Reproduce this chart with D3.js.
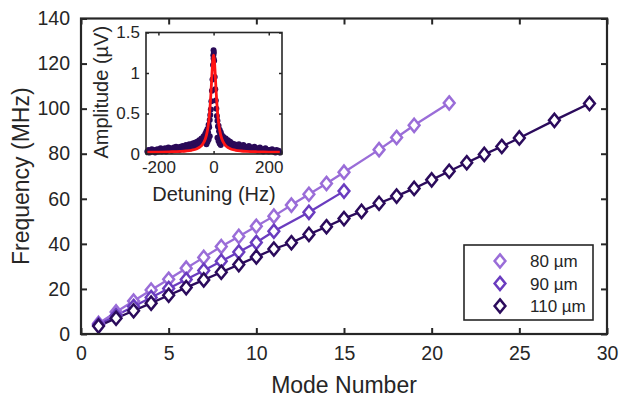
<!DOCTYPE html>
<html>
<head>
<meta charset="utf-8">
<script src="https://cdn.jsdelivr.net/npm/d3@7"></script>
<style>
  body { margin: 0; background: #fff; }
  text { font-family: "Liberation Sans", Arial, sans-serif; fill: #262626; }
</style>
</head>
<body>
<svg width="619" height="401"></svg>
<script>
var WIDTH = 619;
var HEIGHT = 401;

// main data: mode number vs frequency (MHz)
var modes80 = [1,2,3,4,5,6,7,8,9,10,11,12,13,14,15,17,18,19,21];
var freq80 = [4.7,9.8,14.6,19.5,24.3,29.2,34.0,38.8,43.3,47.8,52.3,57.2,62.0,66.8,71.8,81.8,87.2,92.6,102.5];
var modes90 = [1,2,3,4,5,6,7,8,9,10,11,13,15];
var freq90 = [4.1,8.2,12.2,16.2,20.2,24.2,28.2,32.3,36.4,40.6,45.6,54.0,63.4];
var modes110 = [1,2,3,4,5,6,7,8,9,10,11,12,13,14,15,16,17,18,19,20,21,22,23,24,25,27,29];
var freq110 = [3.5,7.0,10.3,13.7,17.2,20.6,24.0,27.4,30.8,34.2,37.7,40.5,44.2,47.6,51.2,54.4,58.0,61.2,64.6,68.4,72.2,76.0,79.7,83.2,87.0,94.8,102.3];
var seriesNames = ["80 \u00b5m", "90 \u00b5m", "110 \u00b5m"];
var seriesColors = ["#9a6dd8", "#6a3cbf", "#2b0b5c"];
var xTicks = [0,5,10,15,20,25,30];
var yTicks = [0,20,40,60,80,100,120,140];

// inset data: detuning (Hz) vs amplitude (uV)
var insetDetuning = [-240,-236,-232,-228,-224,-220,-216,-212,-208,-204,-200,-196,-192,-188,-184,-180,-176,-172,-168,-164,-160,-156,-152,-148,-144,-140,-136,-132,-128,-124,-120,-116,-112,-108,-104,-100,-96,-92,-88,-84,-80,-76,-72,-68,-64,-60,-56,-52,-48,-44,-40,-36,-32,
  -30,-28,-26,-24,-22,-20,-18,-16,-14,-12,-10,-8,-6,-4,-2,0,2,4,6,8,10,12,14,16,18,20,22,24,26,28,30,
  -26,-22,-18,-14,-1,1,0,14,18,22,26,
  32,36,40,44,48,52,56,60,64,68,72,76,80,84,88,92,96,100,104,108,112,116,120,124,128,132,136,140,144,148,152,156,160,164,168,172,176,180,184,188,192,196,200,204,208,212,216,220,224,228,232,236,240];
var insetAmplitude = [.03,.05,.02,.04,.06,.03,.05,.02,.04,.06,.03,.05,.07,.03,.05,.04,.07,.03,.06,.08,.05,.07,.04,.06,.08,.05,.09,.06,.08,.05,.09,.07,.10,.06,.09,.11,.07,.10,.12,.08,.11,.13,.09,.14,.11,.15,.12,.17,.14,.19,.16,.22,.19,
  .25,.21,.28,.24,.31,.27,.36,.33,.42,.48,.55,.65,.78,.92,1.10,1.28,1.15,.95,.80,.66,.56,.47,.41,.34,.35,.28,.30,.24,.27,.21,.23,
  .12,.15,.18,.22,1.22,1.25,1.18,.20,.16,.13,.11,
  .18,.21,.16,.19,.14,.17,.12,.15,.11,.13,.09,.12,.08,.11,.09,.12,.07,.10,.08,.11,.07,.09,.06,.08,.10,.06,.08,.05,.07,.09,.05,.07,.04,.06,.08,.04,.06,.03,.05,.07,.04,.05,.03,.05,.04,.06,.03,.04,.02,.05,.03,.04,.02];
var fitDetuning = [-240,-200,-160,-120,-100,-80,-60,-50,-40,-30,-25,-20,-15,-10,-8,-6,-4,-2,0,2,4,6,8,10,15,20,25,30,40,50,60,80,100,120,160,200,240];
var fitAmplitude = [.023,.024,.027,.032,.037,.046,.066,.085,.119,.186,.245,.338,.488,.728,.851,.98,1.10,1.187,1.22,1.187,1.10,.98,.851,.728,.488,.338,.245,.186,.119,.085,.066,.046,.037,.032,.027,.024,.023];
var insetXTicks = [-200,0,200];
var insetXLabels = ["-200","0","200"];
var insetYTicks = [0,0.5,1,1.5];
var insetYLabels = ["0","0.5","1","1.5"];

var svg = d3.select("svg")
    .attr("width", WIDTH)
    .attr("height", HEIGHT);

var plotLeft = 81, plotRight = 607, plotTop = 18.5, plotBottom = 334;

var x = d3.scaleLinear().domain([0, 30]).range([plotLeft, plotRight]);
var y = d3.scaleLinear().domain([0, 140]).range([plotBottom, plotTop]);

function noDomain(g) { g.select(".domain").remove(); }

// ticks (inward, all four sides)
var axes = svg.append("g");
axes.append("g")
    .attr("transform", "translate(0," + plotBottom + ")")
    .call(d3.axisBottom(x).tickValues(xTicks).tickSizeInner(-6).tickSizeOuter(0).tickPadding(12))
    .call(noDomain);
axes.append("g")
    .attr("transform", "translate(0," + plotTop + ")")
    .call(d3.axisTop(x).tickValues(xTicks).tickSizeInner(-6).tickSizeOuter(0).tickFormat(""))
    .call(noDomain);
axes.append("g")
    .attr("transform", "translate(" + plotLeft + ",0)")
    .call(d3.axisLeft(y).tickValues(yTicks).tickSizeInner(-6).tickSizeOuter(0).tickPadding(11))
    .call(noDomain);
axes.append("g")
    .attr("transform", "translate(" + plotRight + ",0)")
    .call(d3.axisRight(y).tickValues(yTicks).tickSizeInner(-6).tickSizeOuter(0).tickFormat(""))
    .call(noDomain);

axes.selectAll(".tick line").attr("stroke", "#262626").attr("stroke-width", 2);
axes.selectAll(".tick text").attr("font-size", 19.5).attr("fill", "#262626")
    .attr("font-family", "'Liberation Sans', Arial, sans-serif");

// series
var series = [
    {x: modes80, y: freq80},
    {x: modes90, y: freq90},
    {x: modes110, y: freq110}
];

var line = d3.line()
    .x(function(d) { return x(d[0]); })
    .y(function(d) { return y(d[1]); });

var diamond = "M0,-6.6L5.4,0L0,6.6L-5.4,0Z";

series.forEach(function(s, k) {
    var pts = s.x.map(function(m, i) { return [m, s.y[i]]; });
    svg.append("path")
        .datum(pts)
        .attr("d", line)
        .attr("fill", "none")
        .attr("stroke", seriesColors[k])
        .attr("stroke-width", 2.3);
});
series.forEach(function(s, k) {
    var pts = s.x.map(function(m, i) { return [m, s.y[i]]; });
    svg.append("g").selectAll("path")
        .data(pts)
        .enter()
        .append("path")
        .attr("d", diamond)
        .attr("transform", function(d) { return "translate(" + x(d[0]) + "," + y(d[1]) + ")"; })
        .attr("fill", "white")
        .attr("stroke", seriesColors[k])
        .attr("stroke-width", 2.5);
});

// box
svg.append("rect")
    .attr("x", plotLeft).attr("y", plotTop)
    .attr("width", plotRight - plotLeft).attr("height", plotBottom - plotTop)
    .attr("fill", "none").attr("stroke", "#262626").attr("stroke-width", 2.2);

// axis titles
svg.append("text")
    .attr("x", (plotLeft + plotRight) / 2)
    .attr("y", 393)
    .attr("text-anchor", "middle")
    .attr("font-size", 23)
    .text("Mode Number");
svg.append("text")
    .attr("transform", "translate(29," + ((plotTop + plotBottom) / 2) + ") rotate(-90)")
    .attr("text-anchor", "middle")
    .attr("font-size", 23)
    .text("Frequency (MHz)");

// legend
var legend = svg.append("g");
legend.append("rect")
    .attr("x", 464).attr("y", 245)
    .attr("width", 129).attr("height", 75)
    .attr("fill", "white").attr("stroke", "#262626").attr("stroke-width", 1.6);
seriesNames.forEach(function(name, k) {
    var ly = 261 + k * 22.5;
    legend.append("path")
        .attr("d", diamond)
        .attr("transform", "translate(500," + ly + ")")
        .attr("fill", "white")
        .attr("stroke", seriesColors[k])
        .attr("stroke-width", 2.5);
    legend.append("text")
        .attr("x", 530).attr("y", ly + 6)
        .attr("font-size", 17)
        .text(name);
});

// inset
var iLeft = 146, iRight = 282, iTop = 32.5, iBottom = 154;
var ix = d3.scaleLinear().domain([-245, 248]).range([iLeft, iRight]);
var iy = d3.scaleLinear().domain([0, 1.5]).range([iBottom, iTop]);

var inset = svg.append("g");
inset.append("rect")
    .attr("x", iLeft).attr("y", iTop)
    .attr("width", iRight - iLeft).attr("height", iBottom - iTop)
    .attr("fill", "white");

var insetAxes = inset.append("g");
insetAxes.append("g")
    .attr("transform", "translate(0," + iBottom + ")")
    .call(d3.axisBottom(ix).tickValues(insetXTicks).tickSizeInner(-3).tickSizeOuter(0).tickPadding(7)
        .tickFormat(function(d, i) { return insetXLabels[i]; }))
    .call(noDomain);
insetAxes.append("g")
    .attr("transform", "translate(0," + iTop + ")")
    .call(d3.axisTop(ix).tickValues(insetXTicks).tickSizeInner(-3).tickSizeOuter(0).tickFormat(""))
    .call(noDomain);
insetAxes.append("g")
    .attr("transform", "translate(" + iLeft + ",0)")
    .call(d3.axisLeft(iy).tickValues(insetYTicks).tickSizeInner(-3).tickSizeOuter(0).tickPadding(6)
        .tickFormat(function(d, i) { return insetYLabels[i]; }))
    .call(noDomain);
insetAxes.append("g")
    .attr("transform", "translate(" + iRight + ",0)")
    .call(d3.axisRight(iy).tickValues(insetYTicks).tickSizeInner(-3).tickSizeOuter(0).tickFormat(""))
    .call(noDomain);
insetAxes.selectAll(".tick line").attr("stroke", "#262626").attr("stroke-width", 1.5);
insetAxes.selectAll(".tick text").attr("font-size", 17).attr("fill", "#262626")
    .attr("font-family", "'Liberation Sans', Arial, sans-serif");

inset.append("g").selectAll("circle")
    .data(insetDetuning.map(function(d, i) { return [d, insetAmplitude[i]]; }))
    .enter()
    .append("circle")
    .attr("cx", function(d) { return ix(d[0]); })
    .attr("cy", function(d) { return iy(d[1]); })
    .attr("r", 3)
    .attr("fill", "#2a0a58");

inset.append("path")
    .datum(fitDetuning.map(function(d, i) { return [d, fitAmplitude[i]]; }))
    .attr("d", d3.line().curve(d3.curveMonotoneX)
        .x(function(d) { return ix(d[0]); })
        .y(function(d) { return iy(d[1]); }))
    .attr("fill", "none")
    .attr("stroke", "#ff1414")
    .attr("stroke-width", 2.8);

inset.append("rect")
    .attr("x", iLeft).attr("y", iTop)
    .attr("width", iRight - iLeft).attr("height", iBottom - iTop)
    .attr("fill", "none").attr("stroke", "#262626").attr("stroke-width", 1.6);

inset.append("text")
    .attr("x", (iLeft + iRight) / 2)
    .attr("y", 201)
    .attr("text-anchor", "middle")
    .attr("font-size", 20)
    .text("Detuning (Hz)");
inset.append("text")
    .attr("transform", "translate(108," + ((iTop + iBottom) / 2 - 1) + ") rotate(-90)")
    .attr("text-anchor", "middle")
    .attr("font-size", 20)
    .text("Amplitude (\u00b5V)");
</script>
</body>
</html>
